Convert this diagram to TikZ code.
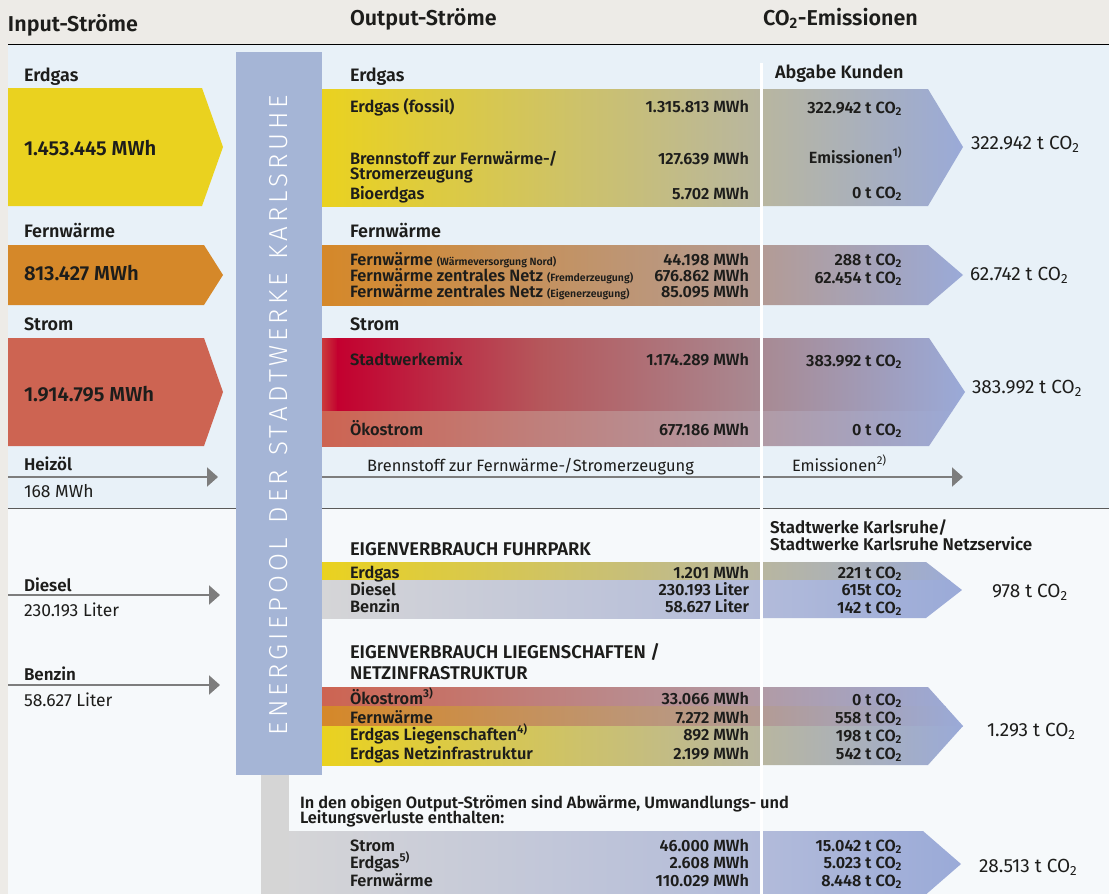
\documentclass[tikz,border=0pt]{standalone}
\usepackage{fontspec}
\setmainfont{Fira Sans}[BoldFont={Fira Sans SemiBold}]
\newfontfamily\lightfont{Fira Sans Light}
\usetikzlibrary{arrows.meta}
\definecolor{beigebg}{HTML}{EDEBE7}
\definecolor{toppanel}{HTML}{E8F1F8}
\definecolor{botpanel}{HTML}{F6F9FB}
\definecolor{poolblue}{HTML}{A5B5D6}
\definecolor{endblue}{HTML}{9AAAD8}
\definecolor{ygold}{HTML}{EAD21F}
\definecolor{ymid}{HTML}{B8B6A0}
\definecolor{oheat}{HTML}{D58829}
\definecolor{omid}{HTML}{B39B95}
\definecolor{rstrom}{HTML}{CD6452}
\definecolor{rmid}{HTML}{B19BA6}
\definecolor{crim}{HTML}{C3002F}
\definecolor{crimlight}{HTML}{CA3A3C}
\definecolor{crimhalf}{HTML}{B5575B}
\definecolor{cmid}{HTML}{A88A93}
\definecolor{gleft}{HTML}{D5D5D7}
\definecolor{gmid}{HTML}{B2BBDA}
\definecolor{graycol}{HTML}{D5D5D5}
\definecolor{linegray}{HTML}{7D7D7D}
\definecolor{sepgray}{HTML}{5A5A5A}
\definecolor{txt}{HTML}{1D1D1B}
\newcommand\COz{CO\textsubscript{2}}
\newcommand\fnote[1]{\textsuperscript{#1)}}
\newcommand\parsz{\fontsize{10.5}{12}\selectfont}
\begin{document}
\begin{tikzpicture}[x=1pt,y=-1pt,
  every node/.style={inner sep=0pt,outer sep=0pt,text=txt},
  lbl/.style={anchor=base west,font=\bfseries\fontsize{16.4}{16}\selectfont},
  lblr/.style={anchor=base east,font=\bfseries\fontsize{16.2}{16}\selectfont},
  head/.style={anchor=base west,font=\bfseries\fontsize{18}{18}\selectfont},
  headsm/.style={anchor=base west,font=\bfseries\fontsize{17}{18}\selectfont},
  capshead/.style={anchor=base west,font=\bfseries\fontsize{18.4}{18}\selectfont},
  title/.style={anchor=base west,font=\bfseries\fontsize{21.5}{22}\selectfont},
  bigval/.style={anchor=base west,font=\bfseries\fontsize{20.2}{20}\selectfont},
  result/.style={anchor=base west,font=\fontsize{19}{18}\selectfont},
  plain/.style={anchor=base west,font=\fontsize{16.4}{16}\selectfont},
  inval/.style={anchor=base west,font=\fontsize{17.5}{16}\selectfont},
  flow/.style={draw=linegray,line width=2pt,-{Triangle[length=11pt,width=19pt]}},
]
\useasboundingbox (0,0) rectangle (1109,894);
% backgrounds
\fill[beigebg] (0,0) rectangle (1109,894);
\fill[toppanel] (8,44) rectangle (1109,508);
\fill[botpanel] (8,508) rectangle (1109,894);
\draw[black,line width=1pt] (8,44) -- (1109,44);
\draw[sepgray,line width=1pt] (8,508) -- (1109,508);

% pool bar
\fill[graycol] (261,775) rectangle (289,894);
\fill[poolblue] (236,52) rectangle (322,775);
\node[rotate=90,text=white,font=\lightfont\fontsize{26}{26}\selectfont] (pool) at (279,415)
 {\makebox[640pt]{E\hfill N\hfill E\hfill R\hfill G\hfill I\hfill E\hfill P\hfill O\hfill O\hfill L\hfill\hspace{7pt}\hfill D\hfill E\hfill R\hfill\hspace{7pt}\hfill S\hfill T\hfill A\hfill D\hfill T\hfill W\hfill E\hfill R\hfill K\hfill E\hfill\hspace{7pt}\hfill K\hfill A\hfill R\hfill L\hfill S\hfill R\hfill U\hfill H\hfill E}};

% input arrows
\fill[ygold] (8,88) -- (202,88) -- (223,147) -- (202,206) -- (8,206) -- cycle;
\fill[oheat] (8,245) -- (204,245) -- (223,275) -- (204,305) -- (8,305) -- cycle;
\fill[rstrom] (8,338) -- (204,338) -- (223,392) -- (204,446) -- (8,446) -- cycle;

% output: Erdgas
\shade[left color=ygold,right color=ymid] (322,89) rectangle (761,206);
\shade[left color=ymid,right color=endblue] (762,89) -- (928,89) -- (963,147) -- (928,206) -- (762,206) -- cycle;
% output: Fernwaerme
\shade[left color=oheat,right color=omid] (322,245) rectangle (761,305);
\shade[left color=omid,right color=endblue] (762,245) -- (928,245) -- (963,275) -- (928,305) -- (762,305) -- cycle;
% output: Strom
\shade[left color=crimlight,right color=crim] (322,338) rectangle (338,411);
\shade[left color=crim,right color=crimhalf] (337.5,338) rectangle (541,411);
\shade[left color=crimhalf,right color=cmid] (540.5,338) rectangle (761,411);
\shade[left color=rstrom,right color=rmid] (322,411) rectangle (761,446);
\begin{scope}
\clip (762,338) -- (929,338) -- (965,392) -- (929,446) -- (762,446) -- cycle;
\shade[left color=cmid,right color=endblue] (762,338) rectangle (965,411);
\shade[left color=rmid,right color=endblue] (762,411) rectangle (965,446);
\end{scope}
% Fuhrpark
\shade[left color=ygold,right color=ymid] (322,562) rectangle (761,580);
\shade[left color=gleft,right color=gmid] (322,580) rectangle (761,618);
\begin{scope}
\clip (762,562) -- (926,562) -- (962,590) -- (926,618) -- (762,618) -- cycle;
\shade[left color=ymid,right color=endblue] (762,562) rectangle (962,580);
\shade[left color=gmid,right color=endblue] (762,580) rectangle (962,618);
\end{scope}
% Liegenschaften
\shade[left color=rstrom,right color=rmid] (322,687) rectangle (761,706);
\shade[left color=oheat,right color=omid] (322,706) rectangle (761,726);
\shade[left color=ygold,right color=ymid] (322,726) rectangle (761,765);
\begin{scope}
\clip (762,687) -- (928,687) -- (963,726) -- (928,765) -- (762,765) -- cycle;
\shade[left color=rmid,right color=endblue] (762,687) rectangle (963,706);
\shade[left color=omid,right color=endblue] (762,706) rectangle (963,726);
\shade[left color=ymid,right color=endblue] (762,726) rectangle (963,765);
\end{scope}
% losses
\shade[left color=gleft,right color=gmid] (289,831) rectangle (761,894);
\shade[left color=gmid,right color=endblue] (762,831) -- (923,831) -- (961,864) -- (923,897) -- (762,897) -- cycle;

% flow lines
\coordinate (heizS) at (8,477);   \coordinate (heizE) at (218,477);
\coordinate (dieS) at (8,595);    \coordinate (dieE) at (220,595);
\coordinate (benS) at (8,685);    \coordinate (benE) at (220,685);
\coordinate (brenS) at (322,477); \coordinate (brenE) at (963,477);
\draw[flow] (heizS) -- (heizE);
\draw[flow] (dieS) -- (dieE);
\draw[flow] (benS) -- (benE);
\draw[flow] (brenS) -- (brenE);

% white divider
\coordinate (divT) at (761.5,63); \coordinate (divB) at (761.5,894);
\draw[white,line width=2.5pt] (divT) -- (divB);

% headers
\node[title] (hIn) at (8,31) {Input-Ströme};
\node[title] (hOut) at (350,25) {Output-Ströme};
\node[title] (hCO) at (763,25) {\COz-Emissionen};

% input texts
\node[head] (iErdgas) at (24,81) {Erdgas};
\node[bigval] (iErdgasV) at (24,155) {1.453.445 MWh};
\node[head] (iFern) at (24,237) {Fernwärme};
\node[bigval] (iFernV) at (24,280) {813.427 MWh};
\node[head] (iStrom) at (24,330) {Strom};
\node[bigval] (iStromV) at (24,401) {1.914.795 MWh};
\node[headsm] (iHeiz) at (24,470) {Heizöl};
\node[inval] (iHeizV) at (24,497) {168 MWh};
\node[headsm] (iDiesel) at (24,591) {Diesel};
\node[inval] (iDieselV) at (24,616) {230.193 Liter};
\node[headsm] (iBenzin) at (24,680) {Benzin};
\node[inval] (iBenzinV) at (24,706) {58.627 Liter};

% output headings
\node[head] (oErdgas) at (350,81) {Erdgas};
\node[head] (oFern) at (350,237) {Fernwärme};
\node[head] (oStrom) at (350,330) {Strom};
\node[head] (abgabe) at (775,78) {Abgabe Kunden};

% Erdgas rows
\node[lbl] (e1) at (350,112) {Erdgas (fossil)};
\node[lblr] (e1v) at (749,112) {1.315.813 MWh};
\node[lblr] (e1c) at (902,113) {322.942 t \COz};
\node[lbl] (e2) at (350,164) {Brennstoff zur Fernwärme-/};
\node[lbl] (e2b) at (350,179) {Stromerzeugung};
\node[lblr] (e2v) at (749,164) {127.639 MWh};
\node[lblr] (e2c) at (902,163) {Emissionen\fnote{1}};
\node[lbl] (e3) at (350,199) {Bioerdgas};
\node[lblr] (e3v) at (749,199) {5.702 MWh};
\node[lblr] (e3c) at (902,198) {0 t \COz};
\node[result] (eres) at (971,149) {322.942 t \COz};

% Fernwaerme rows
\node[lbl] (f1) at (350,265) {Fernwärme {\parsz(Wärmeversorgung Nord)}};
\node[lblr] (f1v) at (749,265) {44.198 MWh};
\node[lbl] (f2) at (350,281) {Fernwärme zentrales Netz {\parsz(Fremderzeugung)}};
\node[lblr] (f2v) at (749,281) {676.862 MWh};
\node[lbl] (f3) at (350,297) {Fernwärme zentrales Netz {\parsz(Eigenerzeugung)}};
\node[lblr] (f3v) at (749,297) {85.095 MWh};
\node[lblr] (f1c) at (902,265) {288 t \COz};
\node[lblr] (f2c) at (902,283) {62.454 t \COz};
\node[result] (fres) at (970,280) {62.742 t \COz};

% Strom rows
\node[lbl] (s1) at (350,365) {Stadtwerkemix};
\node[lblr] (s1v) at (749,365) {1.174.289 MWh};
\node[lblr] (s1c) at (902,366) {383.992 t \COz};
\node[lbl] (s2) at (350,435) {Ökostrom};
\node[lblr] (s2v) at (749,435) {677.186 MWh};
\node[lblr] (s2c) at (902,435) {0 t \COz};
\node[result] (sres) at (972,393) {383.992 t \COz};

\node[plain] (bren) at (367,471) {Brennstoff zur Fernwärme-/Stromerzeugung};
\node[plain] (emi2) at (792,471) {Emissionen\fnote{2}};

% bottom section
\node[headsm] (swk1) at (770,533) {Stadtwerke Karlsruhe/};
\node[headsm] (swk2) at (770,550) {Stadtwerke Karlsruhe Netzservice};
\node[capshead] (fuhr) at (350,555) {EIGENVERBRAUCH FUHRPARK};
\node[lbl] (u1) at (350,578) {Erdgas};
\node[lblr] (u1v) at (749,578) {1.201 MWh};
\node[lblr] (u1c) at (902,578) {221 t \COz};
\node[lbl] (u2) at (350,595) {Diesel};
\node[lblr] (u2v) at (749,595) {230.193 Liter};
\node[lblr] (u2c) at (902,595) {615t \COz};
\node[lbl] (u3) at (350,612) {Benzin};
\node[lblr] (u3v) at (749,612) {58.627 Liter};
\node[lblr] (u3c) at (902,613) {142 t \COz};
\node[result] (ures) at (992,597) {978 t \COz};

\node[capshead] (lieg1) at (350,658) {EIGENVERBRAUCH LIEGENSCHAFTEN /};
\node[capshead] (lieg2) at (350,679) {NETZINFRASTRUKTUR};
\node[lbl] (l1) at (350,704) {Ökostrom\fnote{3}};
\node[lblr] (l1v) at (749,704) {33.066 MWh};
\node[lblr] (l1c) at (902,705) {0 t \COz};
\node[lbl] (l2) at (350,723) {Fernwärme};
\node[lblr] (l2v) at (749,723) {7.272 MWh};
\node[lblr] (l2c) at (902,723) {558 t \COz};
\node[lbl] (l3) at (350,740) {Erdgas Liegenschaften\fnote{4}};
\node[lblr] (l3v) at (749,740) {892 MWh};
\node[lblr] (l3c) at (902,741) {198 t \COz};
\node[lbl] (l4) at (350,759) {Erdgas Netzinfrastruktur};
\node[lblr] (l4v) at (749,759) {2.199 MWh};
\node[lblr] (l4c) at (902,759) {542 t \COz};
\node[result] (lres) at (987,736) {1.293 t \COz};

\node[lbl] (loss1) at (300,808) {In den obigen Output-Strömen sind Abwärme, Umwandlungs- und};
\node[lbl] (loss2) at (300,823) {Leitungsverluste enthalten:};
\node[lbl] (v1) at (350,851) {Strom};
\node[lblr] (v1v) at (749,851) {46.000 MWh};
\node[lblr] (v1c) at (902,851) {15.042 t \COz};
\node[lbl] (v2) at (350,868) {Erdgas\fnote{5}};
\node[lblr] (v2v) at (749,868) {2.608 MWh};
\node[lblr] (v2c) at (902,868) {5.023 t \COz};
\node[lbl] (v3) at (350,886) {Fernwärme};
\node[lblr] (v3v) at (749,886) {110.029 MWh};
\node[lblr] (v3c) at (902,886) {8.448 t \COz};
\node[result] (vres) at (979,872) {28.513 t \COz};
\end{tikzpicture}
\end{document}
